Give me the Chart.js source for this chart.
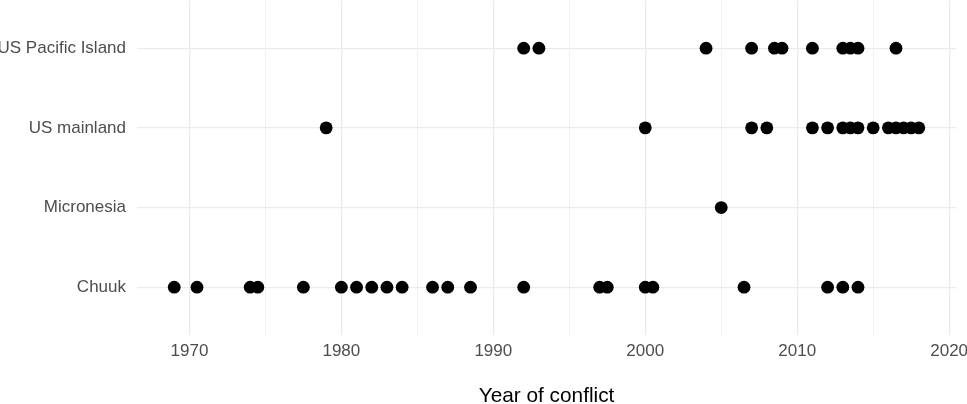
<!DOCTYPE html>
<html>
<head>
<meta charset="utf-8">
<script src="https://cdn.jsdelivr.net/npm/chart.js@4"></script>
<style>
html,body{margin:0;padding:0;background:#fff;overflow:hidden;}
#wrap{width:967px;height:410px;position:relative;top:-6px;}
</style>
</head>
<body>
<div id="wrap"><canvas id="c"></canvas></div>
<script>
const categories = ['Chuuk', 'Micronesia', 'US mainland', 'US Pacific Island'];
const chuukYears = [1969, 1970.5, 1974, 1974.5, 1977.5, 1980, 1981, 1982, 1983, 1984, 1986, 1987, 1988.5, 1992, 1997, 1997.5, 2000, 2000.5, 2006.5, 2012, 2013, 2014];
const micronesiaYears = [2005];
const usMainlandYears = [1979, 2000, 2007, 2008, 2011, 2012, 2013, 2013.5, 2014, 2015, 2016, 2016.5, 2017, 2017.5, 2018];
const usPacificYears = [1992, 1993, 2004, 2007, 2008.5, 2009, 2011, 2013, 2013.5, 2014, 2016.5];
const xTickValues = [1970, 1980, 1990, 2000, 2010, 2020];
const xGridValues = [1970, 1975, 1980, 1985, 1990, 1995, 2000, 2005, 2010, 2015, 2020];

const seriesYears = [chuukYears, micronesiaYears, usMainlandYears, usPacificYears];
const points = [];
seriesYears.forEach((years, i) => years.forEach(y => points.push({x: y, y: i + 1})));

const allYears = [].concat(...seriesYears);
const xmin = Math.min(...allYears), xmax = Math.max(...allYears);
const xpad = (xmax - xmin) * 0.05;

const tickFont = {family: '"Liberation Sans", Arial, sans-serif', size: 17};

function zeroPad(s) { s.paddingTop = 0; s.paddingBottom = 0; s.paddingLeft = 0; s.paddingRight = 0; }

new Chart(document.getElementById('c'), {
  type: 'scatter',
  data: {
    datasets: [{
      data: points,
      backgroundColor: '#000',
      borderWidth: 0,
      pointRadius: 6.4,
      pointHoverRadius: 6.4
    }]
  },
  options: {
    responsive: true,
    maintainAspectRatio: false,
    animation: false,
    layout: {padding: {left: 0, right: 11, top: 0, bottom: 0}},
    plugins: {legend: {display: false}, tooltip: {enabled: false}},
    scales: {
      x: {
        type: 'linear',
        min: xmin - xpad,
        max: xmax + xpad,
        afterBuildTicks: s => { s.ticks = xGridValues.map(v => ({value: v})); },
        afterFit: s => { s.height = 69; zeroPad(s); },
        border: {display: false},
        grid: {
          drawTicks: false,
          color: '#ebebeb',
          lineWidth: ctx => (ctx.tick && xTickValues.includes(ctx.tick.value)) ? 1.3 : 0.7
        },
        ticks: {
          padding: 6,
          color: '#4d4d4d',
          font: tickFont,
          maxRotation: 0,
          autoSkip: false,
          callback: v => xTickValues.includes(v) ? String(v) : ''
        },
        title: {
          display: true,
          text: 'Year of conflict',
          color: '#000',
          font: {family: '"Liberation Sans", Arial, sans-serif', size: 20.8, lineHeight: 0.77},
          padding: 0
        }
      },
      y: {
        type: 'linear',
        min: 0.4,
        max: categories.length + 0.6,
        afterBuildTicks: s => { s.ticks = categories.map((c, i) => ({value: i + 1})); },
        afterFit: s => { s.width = 137; zeroPad(s); },
        border: {display: false},
        grid: {drawTicks: false, color: '#ebebeb', lineWidth: 1.3},
        ticks: {
          padding: 11,
          color: '#4d4d4d',
          font: tickFont,
          autoSkip: false,
          callback: v => categories[v - 1] || ''
        }
      }
    }
  }
});
</script>
</body>
</html>
